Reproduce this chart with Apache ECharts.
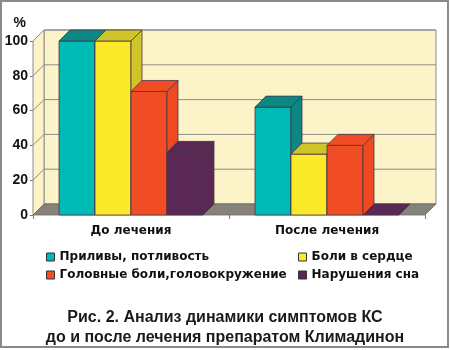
<!DOCTYPE html>
<html>
<head>
<meta charset="utf-8">
<script src="https://cdn.jsdelivr.net/npm/echarts@6/dist/echarts.min.js"></script>
<style>
  html, body { margin: 0; padding: 0; background: #ffffff; }
  #chart { width: 450px; height: 350px; }
</style>
</head>
<body>
<div id="chart"></div>
<script>
// Categories, symptom names and percentages
var categories = ['До лечения', 'После лечения'];
var symptoms = ['Приливы, потливость', 'Боли в сердце', 'Головные боли,головокружение', 'Нарушения сна'];
var hotFlushes = [100, 62];
var heartPain = [100, 35];
var headache = [71, 40];
var sleepDisorder = [36, 0];
var yTicks = [0, 20, 40, 60, 80, 100];

// Face colours for each series: front, top, side
var palette = [
  { front: '#00bab5', top: '#0b8884', side: '#0b8884' },
  { front: '#fbea2a', top: '#cfc42a', side: '#cfc42a' },
  { front: '#f04d24', top: '#f04d24', side: '#ee4a22' },
  { front: '#5a2855', top: '#5a2855', side: '#5a2855' }
];
var seriesValues = [hotFlushes, heartPain, headache, sleepDisorder];

var DX = 11, DY = -11;           // depth offset of the 3D view
var BAR_FRACTION = 36 / 196;     // bar width relative to category band
var FONT = '"Liberation Sans", Arial, sans-serif';
var FONT_WIDE = '"DejaVu Sans", sans-serif';

// Back wall, left wall, floor and the gridlines on the walls
function renderWalls(params, api) {
  var cs = params.coordSys;
  var x0 = cs.x, x1 = cs.x + cs.width;
  var yb = api.coord([0, 0])[1];
  var yt = api.coord([0, yTicks[yTicks.length - 1]])[1];
  var children = [];
  var wallStyle = { fill: '#fdf3c8', stroke: '#8c8c8c', lineWidth: 1 };
  // back wall
  children.push({ type: 'polygon', shape: { points: [[x0 + DX, yt + DY], [x1 + DX, yt + DY], [x1 + DX, yb + DY], [x0 + DX, yb + DY]] }, style: wallStyle });
  // left wall
  children.push({ type: 'polygon', shape: { points: [[x0, yt], [x0 + DX, yt + DY], [x0 + DX, yb + DY], [x0, yb]] }, style: wallStyle });
  // gridlines
  yTicks.forEach(function (t) {
    var y = api.coord([0, t])[1];
    children.push({ type: 'polyline', shape: { points: [[x0, y], [x0 + DX, y + DY], [x1 + DX, y + DY]] }, style: { fill: null, stroke: '#8c8c8c', lineWidth: 1 } });
  });
  // floor
  children.push({ type: 'polygon', shape: { points: [[x0, yb], [x1, yb], [x1 + DX, yb + DY], [x0 + DX, yb + DY]] }, style: { fill: '#858279', stroke: '#6f6d66', lineWidth: 0.8 } });
  return { type: 'group', children: children };
}

// One 3D column: front face, top face, right side face
function makeBarRenderer(idx) {
  return function (params, api) {
    var cat = api.value(0), val = api.value(1);
    var base = api.coord([cat, 0]);
    var top = api.coord([cat, val]);
    var band = api.size([1, 0])[0];
    var w = band * BAR_FRACTION;
    var xl = base[0] - 2 * w + idx * w;
    var xr = xl + w;
    var yb = base[1], yt = top[1];
    var c = palette[idx];
    var stroke = { stroke: '#4a3448', lineWidth: 0.8 };
    var children = [];
    if (val > 0) {
      children.push({ type: 'polygon', shape: { points: [[xl, yt], [xr, yt], [xr, yb], [xl, yb]] }, style: Object.assign({ fill: c.front }, stroke) });
      children.push({ type: 'polygon', shape: { points: [[xr, yt], [xr + DX, yt + DY], [xr + DX, yb + DY], [xr, yb]] }, style: Object.assign({ fill: c.side }, stroke) });
    }
    children.push({ type: 'polygon', shape: { points: [[xl, yt], [xr, yt], [xr + DX, yt + DY], [xl + DX, yt + DY]] }, style: Object.assign({ fill: c.top }, stroke) });
    return { type: 'group', children: children };
  };
}

var series = [{
  type: 'custom',
  name: '__walls',
  silent: true,
  renderItem: renderWalls,
  data: [[0, 0]],
  z: 1
}];
symptoms.forEach(function (name, i) {
  series.push({
    type: 'custom',
    name: name,
    itemStyle: { color: palette[i].front, borderColor: '#333', borderWidth: 1 },
    renderItem: makeBarRenderer(i),
    data: seriesValues[i].map(function (v, k) { return [k, v]; }),
    z: 2
  });
});

var legendCommon = {
  orient: 'vertical',
  icon: 'rect',
  itemWidth: 8,
  itemHeight: 8,
  itemGap: 6,
  itemStyle: { borderColor: '#333', borderWidth: 1 },
  textStyle: { fontFamily: FONT_WIDE, fontWeight: 'bold', fontSize: 12, color: '#111' },
  selectedMode: false
};

var chart = echarts.init(document.getElementById('chart'), null, { renderer: 'canvas' });
chart.setOption({
  backgroundColor: '#ffffff',
  animation: false,
  grid: { left: 33, right: 25, top: 41, bottom: 135 },
  title: {
    text: 'Рис. 2. Анализ динамики симптомов КС\nдо и после лечения препаратом Климадинон',
    left: 'center',
    top: 303,
    textStyle: { fontFamily: FONT, fontWeight: 'bold', fontSize: 16, color: '#1a1a1a', lineHeight: 20 }
  },
  legend: [
    Object.assign({ left: 41, top: 246, data: [symptoms[0], symptoms[2]] }, legendCommon),
    Object.assign({ left: 293, top: 246, data: [symptoms[1], symptoms[3]] }, legendCommon)
  ],
  xAxis: {
    type: 'category',
    data: categories,
    axisLine: { show: false },
    axisTick: { show: true, alignWithLabel: false, length: 4, lineStyle: { color: '#777' } },
    axisLabel: { fontFamily: FONT_WIDE, fontWeight: 'bold', fontSize: 12, color: '#111', margin: 10 },
    splitLine: { show: false }
  },
  yAxis: {
    type: 'value',
    min: 0,
    max: 100,
    interval: 20,
    name: '%',
    nameLocation: 'end',
    nameGap: 11,
    nameTextStyle: { fontFamily: FONT, fontWeight: 'bold', fontSize: 14, color: '#111', align: 'right', padding: [0, 7, 0, 0] },
    axisLine: { show: true, lineStyle: { color: '#777' } },
    axisTick: { show: true, length: 3, lineStyle: { color: '#777' } },
    axisLabel: { fontFamily: FONT, fontWeight: 'bold', fontSize: 14, color: '#111', margin: 5 },
    splitLine: { show: false }
  },
  graphic: [{
    type: 'rect',
    shape: { x: 1, y: 1, width: 447, height: 346 },
    style: { fill: null, stroke: '#8a8a8a', lineWidth: 2 },
    silent: true,
    z: 100
  }],
  series: series
});
</script>
</body>
</html>
